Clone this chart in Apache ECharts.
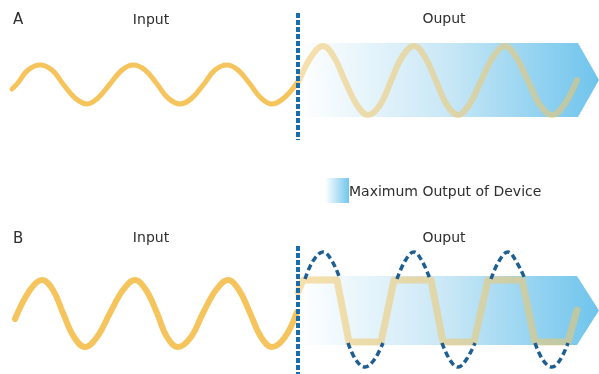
<!DOCTYPE html>
<html>
<head>
<meta charset="utf-8">
<script src="https://cdn.jsdelivr.net/npm/echarts@6/dist/echarts.min.js"></script>
<style>
html,body{margin:0;padding:0;background:#fff;}
#chart{width:599px;height:374px;}
</style>
</head>
<body>
<div id="chart"></div>
<script>
// ---- data (plotting units on a 0..599 x 0..374 plane) ----
const panelLabels = ['A', 'B'];
const sectionLabels = ['Input', 'Ouput'];
const legendLabel = 'Maximum Output of Device';

// Panel A
const inputA = [[12,89],[17,84],[28,70],[40,65],[52,70],[63,84],[75,98],[87,104],[98,98],[110,84],[122,70],[133,65],[145,70],[157,84],[168,98],[180,104],[192,98],[204,84],[215,70],[227,65],[238,70],[250,84],[261,98],[272,104],[284,98],[297,83]];
const outputA = [[298,83],[311,57],[323,46],[334,57],[345,81],[357,105],[368,115],[380,105],[391,81],[402,57],[414,46],[425,57],[436,81],[447,105],[458,115],[469,105],[481,81],[493,57],[505,46],[516,57],[528,81],[540,105],[552,115],[564,105],[577,80]];
const dividerA = [[298,13],[298,140]];
const bandA = [298, 578, 599, 43, 117]; // start, body end, tip, top, bottom

// Panel B
const inputB = [[15,319],[30,290],[42,280],[53,290],[63,313],[74,337],[85,347],[97,337],[110,313],[123,290],[135,280],[146,290],[157,313],[167,337],[178,347],[191,337],[203,313],[216,290],[228,280],[239,290],[250,313],[261,337],[272,347],[285,337],[297,312]];
const clippedB = [[298,292],[303,280],[337,280],[349,342],[381,342],[394,280],[431,280],[443,342],[474,342],[488,280],[522,280],[535,342],[568,342],[577,310]];
const unclippedB = [
  [305,279],[313,261],[323,252],[332,261],[340,279], null,
  [348,343],[356,360],[365,367],[374,360],[383,343], null,
  [397,279],[405,261],[414,252],[422,261],[430,279], null,
  [442,343],[450,360],[458,367],[466,360],[475,343], null,
  [491,279],[499,261],[508,252],[516,261],[525,279], null,
  [535,343],[543,360],[552,367],[560,360],[568,343]
];
const dividerB = [[298,246],[298,374]];
const bandB = [298, 577, 599, 276, 345];

// ---- chart ----
const chart = echarts.init(document.getElementById('chart'), null, {renderer: 'canvas'});

const bandGradient = () => new echarts.graphic.LinearGradient(0, 0, 1, 0, [
  {offset: 0, color: '#ffffff'},
  {offset: 0.5, color: '#c8e7f6'},
  {offset: 1, color: '#6fc4ec'}
]);

const FONT = '"DejaVu Sans", sans-serif';
const label = (x, y, t, size, align) => ({
  type: 'text', x: x, y: y, z: 10,
  style: {text: t, fill: '#2e2e2e', font: size + 'px ' + FONT, align: align || 'left', verticalAlign: 'middle'}
});

const option = {
  animation: false,
  backgroundColor: '#ffffff',
  grid: {left: 0, right: 0, top: 0, bottom: 0},
  xAxis: {type: 'value', min: 0, max: 599, show: false},
  yAxis: {type: 'value', min: 0, max: 374, inverse: true, show: false},
  series: [
    {
      type: 'custom',
      data: [bandA, bandB],
      z: 1,
      renderItem: function (params, api) {
        const x0 = api.value(0), x1 = api.value(1), x2 = api.value(2);
        const yt = api.value(3), yb = api.value(4), ym = (yt + yb) / 2;
        const pts = [
          api.coord([x0, yt]), api.coord([x1, yt]), api.coord([x2, ym]),
          api.coord([x1, yb]), api.coord([x0, yb])
        ];
        return {type: 'polygon', shape: {points: pts}, style: {fill: bandGradient()}};
      }
    },
    {type: 'line', data: inputA, smooth: 0.4, symbol: 'none', z: 3,
     lineStyle: {color: '#f6c45c', width: 5, cap: 'round'}},
    {type: 'line', data: outputA, smooth: 0.4, symbol: 'none', z: 3,
     lineStyle: {color: '#f0c76a', width: 6, opacity: 0.55, cap: 'round'}},
    {type: 'line', data: inputB, smooth: 0.4, symbol: 'none', z: 3,
     lineStyle: {color: '#f6c45c', width: 6, cap: 'round'}},
    {type: 'line', data: clippedB, smooth: false, symbol: 'none', z: 3,
     lineStyle: {color: '#f0c76a', width: 7, opacity: 0.55, cap: 'round', join: 'round'}},
    {type: 'line', data: unclippedB, smooth: 0.4, symbol: 'none', connectNulls: false, z: 4,
     lineStyle: {color: '#1d5f92', width: 3.5, type: [6, 3.5]}},
    {type: 'line', data: dividerA, symbol: 'none', z: 5,
     lineStyle: {color: '#1a6dac', width: 4, type: [5, 2]}},
    {type: 'line', data: dividerB, symbol: 'none', z: 5,
     lineStyle: {color: '#1a6dac', width: 4, type: [5, 2]}}
  ],
  graphic: [
    label(13, 20, panelLabels[0], 15),
    label(151, 20, sectionLabels[0], 14, 'center'),
    label(444, 19.5, sectionLabels[1], 14, 'center'),
    label(13, 239, panelLabels[1], 15),
    label(151, 238.5, sectionLabels[0], 14, 'center'),
    label(444, 238.5, sectionLabels[1], 14, 'center'),
    {type: 'rect', x: 325, y: 178, z: 10, shape: {width: 24, height: 25},
     style: {fill: new echarts.graphic.LinearGradient(0, 0, 1, 0, [
       {offset: 0, color: '#ffffff'}, {offset: 1, color: '#72c6ed'}])}},
    label(349, 192, legendLabel, 14)
  ]
};
chart.setOption(option);
</script>
</body>
</html>
